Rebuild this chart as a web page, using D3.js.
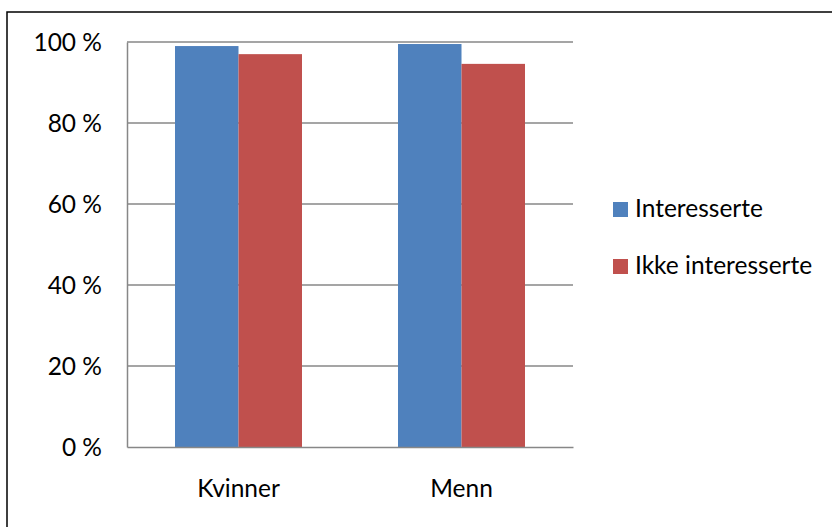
<!DOCTYPE html>
<html><head><meta charset="utf-8">
<script src="https://cdn.jsdelivr.net/npm/d3@7/dist/d3.min.js"></script>
<style>body{margin:0;background:#fff}svg{display:block}text{font-family:Lato,"Open Sans",sans-serif;fill:#000}</style>
</head><body>
<script>
const categories = ["Kvinner", "Menn"];
const seriesNames = ["Interesserte", "Ikke interesserte"];
const interesserte = [99.0, 99.5];
const ikkeInteresserte = [97.0, 94.6];
const yTicks = [0, 20, 40, 60, 80, 100];
const colors = ["#4F81BD", "#C0504D"];

const W = 832, H = 527;
const FS = 24.5;
const svg = d3.select("body").append("svg").attr("width", W).attr("height", H);
svg.append("rect").attr("x", 7).attr("y", 12).attr("width", W + 10).attr("height", H + 10)
  .attr("fill", "#fff").attr("stroke", "#000").attr("stroke-width", 1.5);

const L = 127, R = 573, T = 42, B = 447;
const x = d3.scaleBand().domain(categories).range([L, R]);
const y = d3.scaleLinear().domain([0, 100]).range([B, T]);
const groupW = x.bandwidth() * 127 / 223;
const xs = d3.scaleBand().domain(seriesNames).range([0, groupW]);

// gridlines
svg.append("g").selectAll("line").data(yTicks.filter(t => t > 0)).join("line")
  .attr("x1", L).attr("x2", R).attr("y1", d => y(d)).attr("y2", d => y(d))
  .attr("stroke", "#878787").attr("stroke-width", 1.3);

const data = [interesserte, ikkeInteresserte];
seriesNames.forEach((s, si) => {
  svg.append("g").selectAll("rect").data(categories).join("rect")
    .attr("x", c => x(c) + (x.bandwidth() - groupW) / 2 + xs(s))
    .attr("y", (c, i) => y(data[si][i]))
    .attr("width", xs.bandwidth())
    .attr("height", (c, i) => B - y(data[si][i]))
    .attr("fill", colors[si]);
});

// axes
const yAxis = d3.axisLeft(y).tickValues(yTicks).tickSize(0).tickPadding(25)
  .tickFormat(d => d + " %");
const gy = svg.append("g").attr("transform", `translate(${L},0)`).call(yAxis);
gy.select(".domain").attr("stroke", "#878787").attr("stroke-width", 1.5);
gy.selectAll("text").attr("font-size", FS).attr("font-family", "Lato").attr("dy", "0.36em");

const xAxis = d3.axisBottom(x).tickSize(0);
const gx = svg.append("g").attr("transform", `translate(0,${B})`).call(xAxis);
gx.select(".domain").attr("stroke", "#878787").attr("stroke-width", 1.5);
gx.selectAll("text").attr("font-size", FS).attr("font-family", "Lato").attr("y", 50).attr("dy", 0);

// legend
const leg = svg.append("g");
seriesNames.forEach((s, i) => {
  const yy = 202 + i * 57;
  leg.append("rect").attr("x", 613).attr("y", yy).attr("width", 15).attr("height", 15).attr("fill", colors[i]);
  leg.append("text").attr("x", 635).attr("y", yy + 15).attr("font-size", FS).text(s);
});
</script>
</body></html>
